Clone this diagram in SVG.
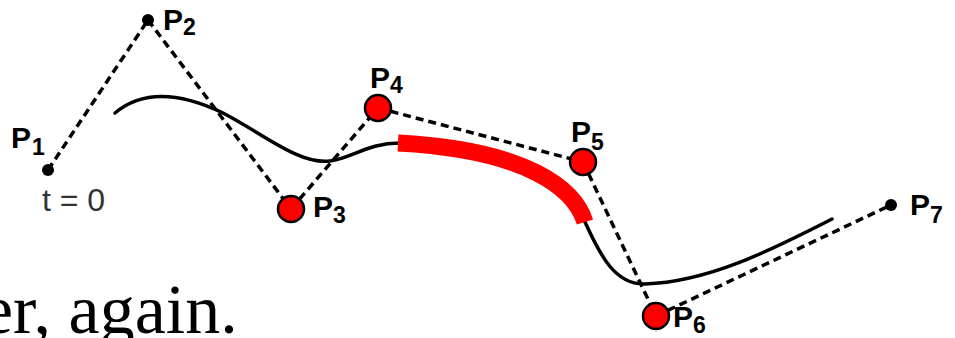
<svg xmlns="http://www.w3.org/2000/svg" width="955" height="338" viewBox="0 0 955 338">
<style>
.dash{fill:none;stroke:#000;stroke-width:3.5;stroke-dasharray:8 5}
.curve{fill:none;stroke:#000;stroke-width:3.5;stroke-linecap:round}
.red{fill:#ff0000;stroke:#000;stroke-width:2.5}
.dot{fill:#000}
.lbl{font-family:"Liberation Sans",Arial,sans-serif;font-weight:bold;font-size:30px;fill:#000}
.sub{font-size:23px}
</style>
<rect width="955" height="338" fill="#fff"/>
<g id="connectors">
<line class="dash" x1="48" y1="170" x2="148" y2="20"/>
<line class="dash" x1="148" y1="20" x2="291" y2="209"/>
<line class="dash" x1="291" y1="209" x2="378" y2="108"/>
<line class="dash" x1="378" y1="108" x2="583" y2="162"/>
<line class="dash" x1="583" y1="162" x2="656" y2="316"/>
<line class="dash" x1="656" y1="316" x2="891" y2="205"/>
</g>
<g id="curve">
<path class="curve" d="M115,113 C140,92 175,90 223,113 C265,135 300,165 330,161 C352,158 368,143 400,143"/>
<path class="curve" d="M585,222 C600,255 615,285 645,284 C710,282 775,248 832,219"/>
<path d="M398,143 C530,150 575,190 585,222" fill="none" stroke="#ff0000" stroke-width="17"/>
</g>
<g id="P1"><circle class="dot" cx="48" cy="170" r="6"/><text class="lbl" x="11" y="148">P<tspan class="sub" dx="1" dy="7">1</tspan></text>
<text x="42" y="211" font-family="Liberation Sans,Arial,sans-serif" font-size="32" fill="#333">t = 0</text></g>
<g id="P2"><circle class="dot" cx="148" cy="20" r="6"/><text class="lbl" x="163" y="30">P<tspan class="sub" dx="0" dy="5">2</tspan></text></g>
<g id="P3"><circle class="red" cx="291" cy="209" r="13"/><text class="lbl" x="313" y="217">P<tspan class="sub" dx="0" dy="6">3</tspan></text></g>
<g id="P4"><circle class="red" cx="378" cy="108" r="13"/><text class="lbl" x="370" y="88">P<tspan class="sub" dx="0" dy="5">4</tspan></text></g>
<g id="P5"><circle class="red" cx="583" cy="162" r="13"/><text class="lbl" x="571" y="142">P<tspan class="sub" dx="0" dy="8">5</tspan></text></g>
<g id="P6"><circle class="red" cx="656" cy="316" r="13"/><text class="lbl" x="673" y="327">P<tspan class="sub" dx="0" dy="6">6</tspan></text></g>
<g id="P7"><circle class="dot" cx="891" cy="205" r="6"/><text class="lbl" x="910" y="215">P<tspan class="sub" dx="0" dy="8">7</tspan></text></g>
<text x="-18" y="333" font-family="Liberation Serif,'Times New Roman',serif" font-size="70" fill="#000">er, again.</text>
</svg>
